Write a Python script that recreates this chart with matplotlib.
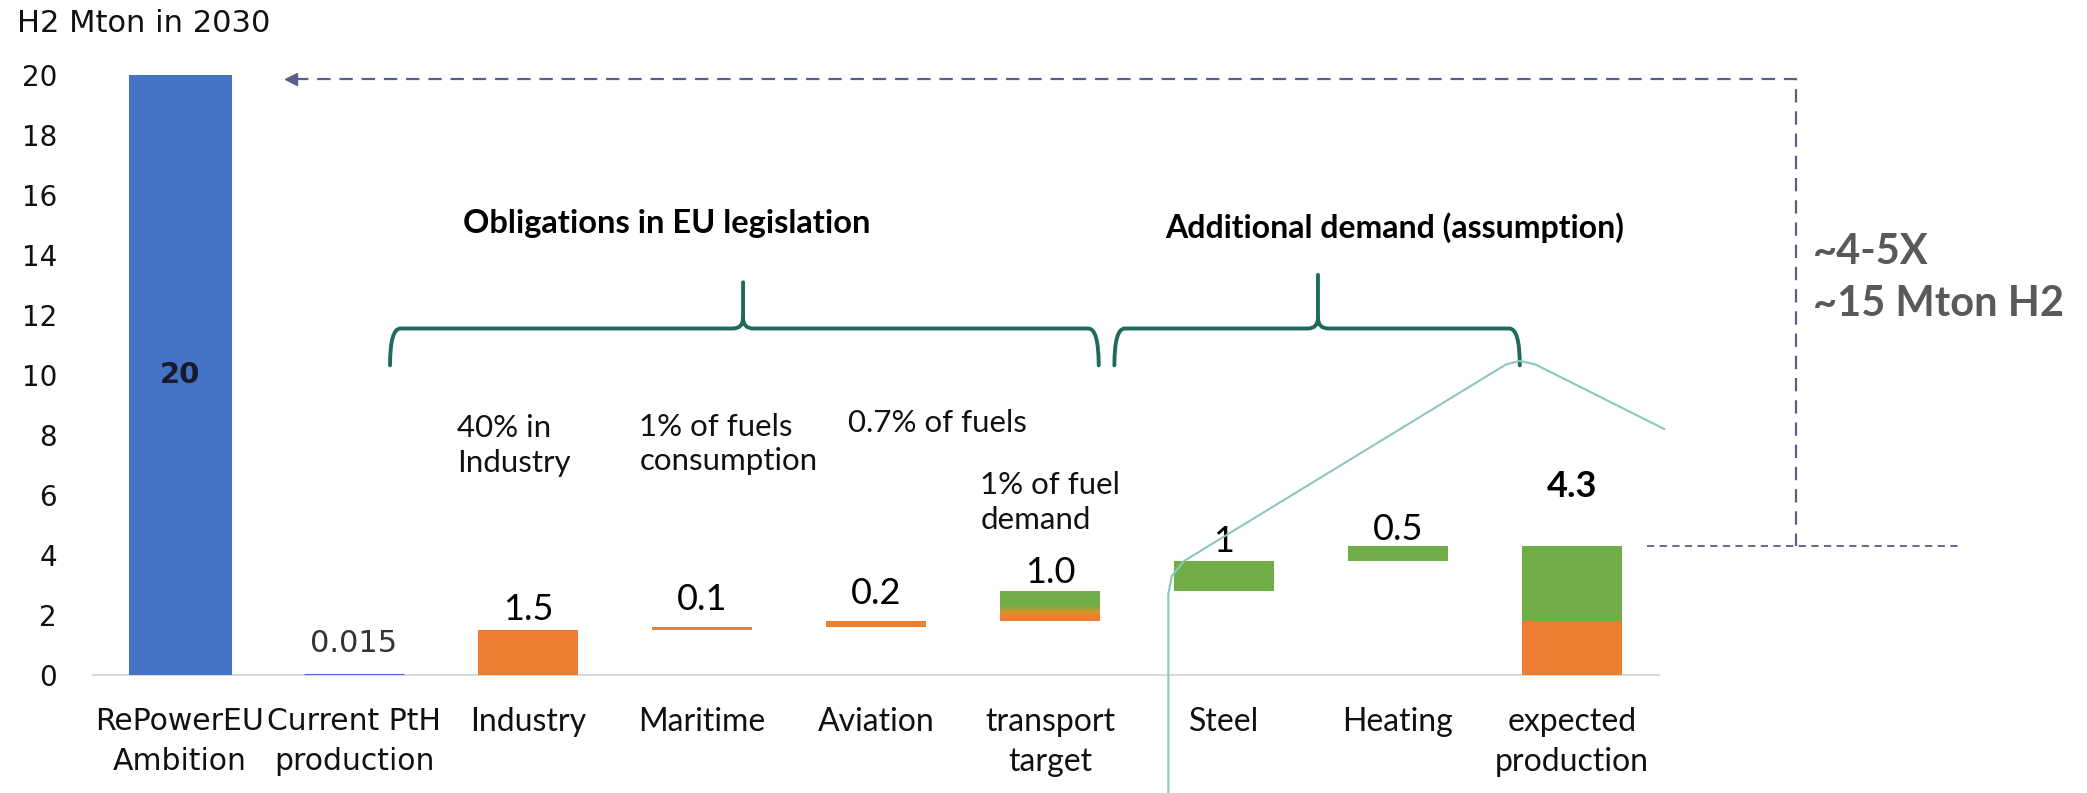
import matplotlib
matplotlib.use("Agg")
import matplotlib.pyplot as plt
from matplotlib.path import Path
from matplotlib.patches import PathPatch
from matplotlib.colors import to_rgb
import numpy as np

### Data ###
categories = ["RePowerEU\nAmbition", "Current PtH\nproduction", "Industry", "Maritime",
              "Aviation", "transport\ntarget", "Steel", "Heating", "expected\nproduction"]
blue_vals = [20, 0.015, 0, 0, 0, 0, 0, 0, 0]
orange_base = [0, 0, 0, 1.5, 1.6, 1.8, 0, 0, 0]
orange_vals = [0, 0, 1.5, 0.1, 0.2, 0.25, 0, 0, 1.8]
mix_base = [0, 0, 0, 0, 0, 2.05, 0, 0, 0]
mix_vals = [0, 0, 0, 0, 0, 0.3, 0, 0, 0]
green_base = [0, 0, 0, 0, 0, 2.35, 2.8, 3.8, 1.8]
green_vals = [0, 0, 0, 0, 0, 0.45, 1.0, 0.5, 2.5]
value_text = ["20", "0.015", "1.5", "0.1", "0.2", "1.0", "1", "0.5", "4.3"]
notes = {2: "40% in\nIndustry", 3: "1% of fuels\nconsumption", 4: "0.7% of fuels",
         5: "1% of fuel\ndemand"}
group_titles = ["Obligations in EU legislation", "Additional demand (assumption)"]
side_notes = ["~4-5X", "~15 Mton H2"]
yticks = list(range(0, 21, 2))
### End of data ###

### Plot config ###
blue, orange, green = "#4472C4", "#ED7D31", "#70AD47"
teal = "#1F6B5B"
dash_col = "#5B5D8A"
wide = "DejaVu Sans"
narrow = ["Lato", "DejaVu Sans"]
### End of plot config ###

fig = plt.figure(figsize=(20.87, 7.93), dpi=100)
ax = fig.add_axes([93 / 2087, 1 - 675 / 793, (1659 - 93) / 2087, (675 - 75) / 793])
x = np.arange(len(categories))
w = 0.57

ax.bar(x, blue_vals, w, color=blue, edgecolor=[blue if v > 0 else "none" for v in blue_vals],
       linewidth=2.2, zorder=3)
ax.bar(x, orange_vals, w, bottom=orange_base, color=orange, linewidth=0, zorder=3)
ax.bar(x, green_vals, w, bottom=green_base, color=green, linewidth=0, zorder=3)
# green-to-orange blend on the transport target bar
for i, (mb, mv) in enumerate(zip(mix_base, mix_vals)):
    if mv > 0:
        t = np.linspace(0, 1, 64)[:, None]
        grad = (1 - t)[..., None] * np.array(to_rgb("#E8901F")) + t[..., None] * np.array(to_rgb(green))
        ax.imshow(grad, extent=[i - w / 2, i + w / 2, mb, mb + mv], origin="lower",
                  aspect="auto", zorder=3, interpolation="bilinear")

# value labels
tops = [max(b + o, mb + m, g + gv, bv) for b, o, mb, m, g, gv, bv in
        zip(orange_base, orange_vals, mix_base, mix_vals, green_base, green_vals, blue_vals)]
offsets = [None, 1.05, 0.68, 0.9, 0.92, 0.63, 0.65, 0.55, 1.97]
for i, (t, txt) in enumerate(zip(tops, value_text)):
    if i == 0:
        ax.text(i, t / 2, txt, ha="center", va="center", fontsize=21, fontweight="bold",
                family=wide, color="#1A1A2E")
    elif i == 1:
        ax.text(i, t + offsets[i], txt, ha="center", va="center", fontsize=22,
                family=wide, color="#333333")
    else:
        ax.text(i, t + offsets[i], txt, ha="center", va="center", fontsize=26,
                family=narrow, color="black",
                fontweight="bold" if i == len(categories) - 1 else "normal")

# note texts above obligations
note_pos = {2: (1.59, 7.65), 3: (2.64, 7.7), 4: (3.84, 8.4), 5: (4.60, 5.75)}
for k, txt in notes.items():
    px, py = note_pos[k]
    ax.text(px, py, txt, ha="left", va="center", fontsize=22.5, family=narrow,
            linespacing=1.3, color="#111111")


def brace(x0, x1, xm, y_end, y_bar, y_tip, rx=0.06, ry=0.35):
    verts = [(x0, y_end), (x0, y_bar), (x0 + rx, y_bar), (xm - rx, y_bar),
             (xm, y_bar), (xm, y_bar + ry), (xm, y_tip),
             (x1, y_end), (x1, y_bar), (x1 - rx, y_bar), (xm + rx, y_bar),
             (xm, y_bar), (xm, y_bar + ry)]
    codes = [Path.MOVETO, Path.CURVE3, Path.CURVE3, Path.LINETO,
             Path.CURVE3, Path.CURVE3, Path.LINETO,
             Path.MOVETO, Path.CURVE3, Path.CURVE3, Path.LINETO,
             Path.CURVE3, Path.CURVE3]
    ax.add_patch(PathPatch(Path(verts, codes), fill=False, edgecolor=teal, lw=2.8,
                           clip_on=False, capstyle="round", joinstyle="round"))


brace(1.207, 5.28, 3.236, 10.32, 11.55, 13.09)
brace(5.37, 7.70, 6.54, 10.32, 11.55, 13.34)
ax.text(2.80, 15.06, group_titles[0], ha="center", va="center", fontsize=23.5,
        fontweight="bold", family=narrow, color="black")
ax.text(6.98, 14.9, group_titles[1], ha="center", va="center", fontsize=23,
        fontweight="bold", family=narrow, color="black")

# thin leftover connector line
ax.plot([8.53, 7.79, 7.70, 7.62, 5.77, 5.70, 5.68, 5.68],
        [8.2, 10.35, 10.47, 10.35, 3.8, 3.3, 2.7, -3.94],
        color="#8CC7BE", lw=1.5, clip_on=False, solid_joinstyle="round", zorder=4)

# dashed bracket to the ambition bar
top_y = 19.87
ax.plot([0.66, 9.29, 9.29], [top_y, top_y, tops[-1]], ls=(0, (6, 4)), color=dash_col,
        lw=1.6, clip_on=False)
ax.plot([8.43, 10.22], [tops[-1], tops[-1]], ls=(0, (4, 3)), color=dash_col, lw=1.3,
        clip_on=False)
ax.plot([0.64], [top_y], marker="<", ms=9, color=dash_col, clip_on=False)
ax.text(9.385, 14.09, side_notes[0], ha="left", va="center", fontsize=30,
        fontweight="bold", family=narrow, color="#595959")
ax.text(9.385, 12.35, side_notes[1], ha="left", va="center", fontsize=30,
        fontweight="bold", family=narrow, color="#595959")

# axes styling
ax.set_xlim(-0.5, 8.5)
ax.set_ylim(0, 20)
ax.set_yticks(yticks)
ax.set_yticklabels([str(v) for v in yticks], fontsize=20, family=wide)
ax.set_xticks(x)
ax.set_xticklabels(categories)
for i, lab in enumerate(ax.get_xticklabels()):
    if i < 2:
        lab.set_family(wide)
        lab.set_fontsize(21.5)
        lab.set_linespacing(1.5)
    else:
        lab.set_family(narrow)
        lab.set_fontsize(23)
        lab.set_linespacing(1.4)
ax.tick_params(axis="x", length=0, pad=23, colors="#111111")
ax.tick_params(axis="y", length=0, pad=26, colors="#111111")
for s in ["top", "right", "left"]:
    ax.spines[s].set_visible(False)
ax.spines["bottom"].set_color("#D9D9D9")
ax.spines["bottom"].set_linewidth(1.5)
ax.spines["bottom"].set_zorder(1)

fig.text(17 / 2087, 1 - 23 / 793, "H2 Mton in 2030", ha="left", va="center",
         fontsize=22, family=wide, color="#111111")

fig.savefig("out.png", dpi=100)
